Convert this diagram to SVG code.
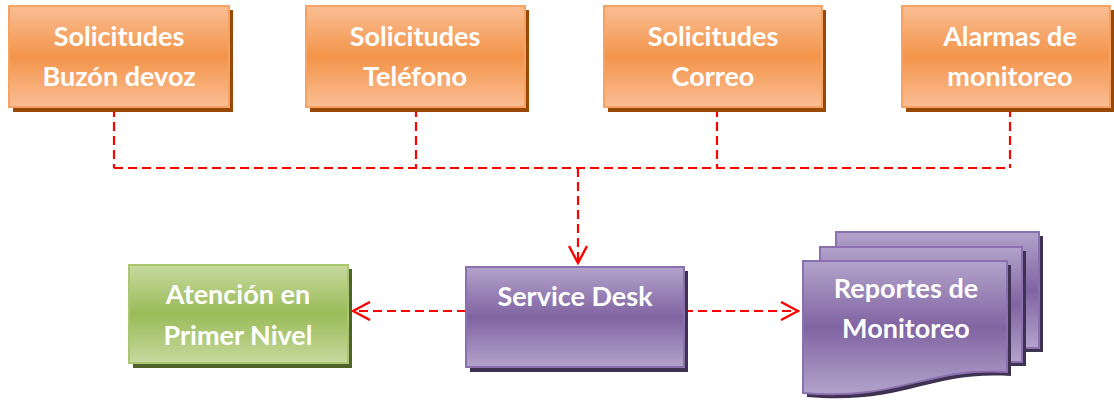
<svg xmlns="http://www.w3.org/2000/svg" width="1114" height="404" viewBox="0 0 1114 404">
  <defs>
    <linearGradient id="gOrange" x1="0" y1="0" x2="0" y2="1">
      <stop offset="0" stop-color="#F9BE93"/>
      <stop offset="0.5" stop-color="#F4944A"/>
      <stop offset="1" stop-color="#F9BE93"/>
    </linearGradient>
    <linearGradient id="gPurple" x1="0" y1="0" x2="0" y2="1">
      <stop offset="0" stop-color="#B3A3CB"/>
      <stop offset="0.5" stop-color="#8064A2"/>
      <stop offset="1" stop-color="#B3A3CB"/>
    </linearGradient>
    <linearGradient id="gGreen" x1="0" y1="0" x2="0" y2="1">
      <stop offset="0" stop-color="#C6DA9E"/>
      <stop offset="0.5" stop-color="#9BBB59"/>
      <stop offset="1" stop-color="#C6DA9E"/>
    </linearGradient>
    <marker id="vhead" viewBox="0 0 20 20" refX="18" refY="10" markerWidth="20" markerHeight="20" markerUnits="userSpaceOnUse" orient="auto">
      <path d="M1,1 L18,10 L1,19" fill="none" stroke="#FF0000" stroke-width="2.4"/>
    </marker>
    <path id="doc" d="M0,0 H204 V111 C120,106 100,140 0,132 Z"/>
  </defs>
  <style>
    .txt { font-family: Lato, "Open Sans", "Liberation Sans", sans-serif; font-weight: bold; font-size: 27px; fill: #FFFFFF; text-anchor: middle; }
    .or { fill: url(#gOrange); stroke: #F6A265; stroke-width: 2; }
    .pu { fill: url(#gPurple); stroke: #8A70AE; stroke-width: 2; }
    .gr { fill: url(#gGreen); stroke: #A9C670; stroke-width: 2; }
    .sh-or { fill: #984807; }
    .sh-pu { fill: #3F3151; }
    .sh-gr { fill: #4F6228; }
    .link { fill: none; stroke: #FF0000; stroke-width: 2.2; stroke-dasharray: 9 5; }
  </style>

  <!-- connectors -->
  <g id="connectors">
    <path class="link" d="M114,108 V168 M416,108 V168 M717,108 V168 M1010,108 V168 M114,168 H1010"/>
    <path class="link" d="M578,168 V263" marker-end="url(#vhead)"/>
    <path class="link" d="M466,311 H353" marker-end="url(#vhead)"/>
    <path class="link" d="M684,311 H798" marker-end="url(#vhead)"/>
  </g>

  <!-- input sources -->
  <g id="buzon">
    <rect class="sh-or" x="13" y="10" width="220" height="102"/>
    <rect class="or" x="9" y="6" width="220" height="101"/>
    <text class="txt" x="119" y="46">Solicitudes</text>
    <text class="txt" x="119" y="86">Buzón devoz</text>
  </g>
  <g id="telefono">
    <rect class="sh-or" x="310" y="10" width="219" height="102"/>
    <rect class="or" x="306" y="6" width="219" height="101"/>
    <text class="txt" x="415" y="46">Solicitudes</text>
    <text class="txt" x="415" y="86">Teléfono</text>
  </g>
  <g id="correo">
    <rect class="sh-or" x="608" y="10" width="218" height="102"/>
    <rect class="or" x="604" y="6" width="218" height="101"/>
    <text class="txt" x="713" y="46">Solicitudes</text>
    <text class="txt" x="713" y="86">Correo</text>
  </g>
  <g id="alarmas">
    <rect class="sh-or" x="906" y="10" width="208" height="102"/>
    <rect class="or" x="902" y="6" width="208" height="101"/>
    <text class="txt" x="1010" y="46">Alarmas de</text>
    <text class="txt" x="1010" y="86">monitoreo</text>
  </g>

  <!-- central desk -->
  <g id="service-desk">
    <rect class="sh-pu" x="470" y="271" width="218" height="101"/>
    <rect class="pu" x="466" y="267" width="218" height="100"/>
    <text class="txt" x="575" y="306">Service Desk</text>
  </g>

  <g id="primer-nivel">
    <rect class="sh-gr" x="133" y="269" width="219" height="99"/>
    <rect class="gr" x="129" y="265" width="219" height="98"/>
    <text class="txt" x="238" y="304">Atención en</text>
    <text class="txt" x="238" y="345">Primer Nivel</text>
  </g>

  <!-- stacked report documents -->
  <g id="reportes">
    <rect class="sh-pu" x="840" y="236" width="203" height="116"/>
    <rect class="pu" x="836" y="232" width="203" height="116"/>
    <rect class="sh-pu" x="824" y="251" width="202" height="115"/>
    <rect class="pu" x="820" y="247" width="202" height="115"/>
    <use href="#doc" class="sh-pu" x="807" y="265"/>
    <use href="#doc" class="pu" x="803" y="261"/>
    <text class="txt" x="906" y="298">Reportes de</text>
    <text class="txt" x="906" y="338">Monitoreo</text>
  </g>
</svg>
